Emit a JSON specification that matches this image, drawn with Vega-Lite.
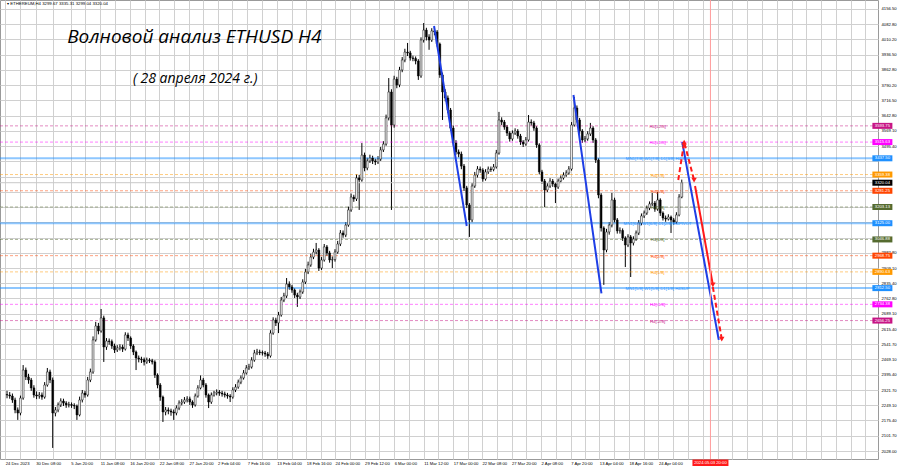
{
"$schema":"https://vega.github.io/schema/vega-lite/v6.json",
"width":878,"height":459,
"autosize":{"type":"none"},
"padding":{"left":0,"top":0,"right":22,"bottom":9},
"background":"white",
"resolve":{"axis":{"x":"independent","y":"independent"}},
"config":{"view":{"stroke":"#9a9a9a","strokeWidth":1},"text":{"font":"Liberation Sans"},
"axis":{"grid":true,"gridColor":"#d0d0d0","gridWidth":1,"gridOpacity":1,"domain":false,"ticks":false,"labelFontSize":4.2,"labelFont":"Liberation Sans","labelColor":"#000000","labelOverlap":false,"labelFlush":false}},
"datasets":{
"candles":[
{"t":"2023-12-25T00:00","o":2300,"h":2318,"l":2282,"c":2298},
{"t":"2023-12-25T12:00","o":2298,"h":2312,"l":2280,"c":2293},
{"t":"2023-12-26T00:00","o":2293,"h":2305,"l":2260,"c":2274},
{"t":"2023-12-26T12:00","o":2274,"h":2285,"l":2210,"c":2226},
{"t":"2023-12-27T00:00","o":2226,"h":2238,"l":2178,"c":2211},
{"t":"2023-12-27T12:00","o":2211,"h":2295,"l":2200,"c":2283},
{"t":"2023-12-28T00:00","o":2283,"h":2442,"l":2275,"c":2418},
{"t":"2023-12-28T12:00","o":2418,"h":2430,"l":2370,"c":2385},
{"t":"2023-12-29T00:00","o":2385,"h":2400,"l":2352,"c":2370},
{"t":"2023-12-29T12:00","o":2370,"h":2380,"l":2318,"c":2332},
{"t":"2023-12-30T00:00","o":2332,"h":2345,"l":2285,"c":2298},
{"t":"2023-12-30T12:00","o":2298,"h":2315,"l":2278,"c":2293},
{"t":"2023-12-31T00:00","o":2293,"h":2312,"l":2280,"c":2298},
{"t":"2023-12-31T12:00","o":2298,"h":2310,"l":2275,"c":2288},
{"t":"2024-01-01T00:00","o":2288,"h":2360,"l":2280,"c":2346},
{"t":"2024-01-01T12:00","o":2346,"h":2428,"l":2338,"c":2409},
{"t":"2024-01-02T00:00","o":2409,"h":2420,"l":2355,"c":2370},
{"t":"2024-01-02T12:00","o":2370,"h":2382,"l":2043,"c":2211},
{"t":"2024-01-03T00:00","o":2211,"h":2240,"l":2195,"c":2226},
{"t":"2024-01-03T12:00","o":2226,"h":2262,"l":2215,"c":2250},
{"t":"2024-01-04T00:00","o":2250,"h":2282,"l":2240,"c":2269},
{"t":"2024-01-04T12:00","o":2269,"h":2280,"l":2245,"c":2259},
{"t":"2024-01-05T00:00","o":2259,"h":2268,"l":2236,"c":2250},
{"t":"2024-01-05T12:00","o":2250,"h":2265,"l":2238,"c":2252},
{"t":"2024-01-06T00:00","o":2252,"h":2262,"l":2236,"c":2248},
{"t":"2024-01-06T12:00","o":2248,"h":2258,"l":2230,"c":2245},
{"t":"2024-01-07T00:00","o":2245,"h":2252,"l":2178,"c":2202},
{"t":"2024-01-07T12:00","o":2202,"h":2290,"l":2195,"c":2274},
{"t":"2024-01-08T00:00","o":2274,"h":2322,"l":2262,"c":2307},
{"t":"2024-01-08T12:00","o":2307,"h":2318,"l":2285,"c":2298},
{"t":"2024-01-09T00:00","o":2298,"h":2385,"l":2290,"c":2370},
{"t":"2024-01-09T12:00","o":2370,"h":2425,"l":2360,"c":2409},
{"t":"2024-01-10T00:00","o":2409,"h":2580,"l":2400,"c":2563},
{"t":"2024-01-10T12:00","o":2563,"h":2650,"l":2555,"c":2630},
{"t":"2024-01-11T00:00","o":2630,"h":2645,"l":2590,"c":2606},
{"t":"2024-01-11T12:00","o":2606,"h":2712,"l":2598,"c":2669},
{"t":"2024-01-12T00:00","o":2669,"h":2680,"l":2457,"c":2529},
{"t":"2024-01-12T12:00","o":2529,"h":2572,"l":2515,"c":2558},
{"t":"2024-01-13T00:00","o":2558,"h":2570,"l":2540,"c":2555},
{"t":"2024-01-13T12:00","o":2555,"h":2565,"l":2520,"c":2534},
{"t":"2024-01-14T00:00","o":2534,"h":2545,"l":2500,"c":2515},
{"t":"2024-01-14T12:00","o":2515,"h":2538,"l":2505,"c":2524},
{"t":"2024-01-15T00:00","o":2524,"h":2542,"l":2512,"c":2529},
{"t":"2024-01-15T12:00","o":2529,"h":2540,"l":2505,"c":2519},
{"t":"2024-01-16T00:00","o":2519,"h":2600,"l":2512,"c":2587},
{"t":"2024-01-16T12:00","o":2587,"h":2598,"l":2558,"c":2572},
{"t":"2024-01-17T00:00","o":2572,"h":2580,"l":2520,"c":2534},
{"t":"2024-01-17T12:00","o":2534,"h":2542,"l":2490,"c":2505},
{"t":"2024-01-18T00:00","o":2505,"h":2512,"l":2418,"c":2476},
{"t":"2024-01-18T12:00","o":2476,"h":2488,"l":2455,"c":2471},
{"t":"2024-01-19T00:00","o":2471,"h":2482,"l":2452,"c":2468},
{"t":"2024-01-19T12:00","o":2468,"h":2478,"l":2440,"c":2457},
{"t":"2024-01-20T00:00","o":2457,"h":2478,"l":2448,"c":2466},
{"t":"2024-01-20T12:00","o":2466,"h":2475,"l":2452,"c":2463},
{"t":"2024-01-21T00:00","o":2463,"h":2472,"l":2445,"c":2457},
{"t":"2024-01-21T12:00","o":2457,"h":2465,"l":2380,"c":2394},
{"t":"2024-01-22T00:00","o":2394,"h":2402,"l":2330,"c":2346},
{"t":"2024-01-22T12:00","o":2346,"h":2355,"l":2270,"c":2288},
{"t":"2024-01-23T00:00","o":2288,"h":2295,"l":2168,"c":2216},
{"t":"2024-01-23T12:00","o":2216,"h":2240,"l":2200,"c":2226},
{"t":"2024-01-24T00:00","o":2226,"h":2238,"l":2205,"c":2221},
{"t":"2024-01-24T12:00","o":2221,"h":2232,"l":2198,"c":2216},
{"t":"2024-01-25T00:00","o":2216,"h":2228,"l":2178,"c":2211},
{"t":"2024-01-25T12:00","o":2211,"h":2248,"l":2200,"c":2235},
{"t":"2024-01-26T00:00","o":2235,"h":2272,"l":2225,"c":2259},
{"t":"2024-01-26T12:00","o":2259,"h":2278,"l":2248,"c":2264},
{"t":"2024-01-27T00:00","o":2264,"h":2288,"l":2255,"c":2274},
{"t":"2024-01-27T12:00","o":2274,"h":2292,"l":2262,"c":2279},
{"t":"2024-01-28T00:00","o":2279,"h":2290,"l":2250,"c":2264},
{"t":"2024-01-28T12:00","o":2264,"h":2272,"l":2236,"c":2250},
{"t":"2024-01-29T00:00","o":2250,"h":2305,"l":2242,"c":2293},
{"t":"2024-01-29T12:00","o":2293,"h":2345,"l":2285,"c":2332},
{"t":"2024-01-30T00:00","o":2332,"h":2392,"l":2325,"c":2370},
{"t":"2024-01-30T12:00","o":2370,"h":2380,"l":2335,"c":2346},
{"t":"2024-01-31T00:00","o":2346,"h":2355,"l":2285,"c":2298},
{"t":"2024-01-31T12:00","o":2298,"h":2305,"l":2235,"c":2264},
{"t":"2024-02-01T00:00","o":2264,"h":2310,"l":2255,"c":2298},
{"t":"2024-02-01T12:00","o":2298,"h":2318,"l":2290,"c":2307},
{"t":"2024-02-02T00:00","o":2307,"h":2325,"l":2296,"c":2312},
{"t":"2024-02-02T12:00","o":2312,"h":2322,"l":2294,"c":2307},
{"t":"2024-02-03T00:00","o":2307,"h":2318,"l":2290,"c":2303},
{"t":"2024-02-03T12:00","o":2303,"h":2314,"l":2286,"c":2298},
{"t":"2024-02-04T00:00","o":2298,"h":2308,"l":2280,"c":2293},
{"t":"2024-02-04T12:00","o":2293,"h":2302,"l":2264,"c":2288},
{"t":"2024-02-05T00:00","o":2288,"h":2335,"l":2280,"c":2322},
{"t":"2024-02-05T12:00","o":2322,"h":2350,"l":2312,"c":2336},
{"t":"2024-02-06T00:00","o":2336,"h":2372,"l":2328,"c":2360},
{"t":"2024-02-06T12:00","o":2360,"h":2392,"l":2350,"c":2380},
{"t":"2024-02-07T00:00","o":2380,"h":2418,"l":2372,"c":2404},
{"t":"2024-02-07T12:00","o":2404,"h":2442,"l":2396,"c":2428},
{"t":"2024-02-08T00:00","o":2428,"h":2448,"l":2418,"c":2433},
{"t":"2024-02-08T12:00","o":2433,"h":2480,"l":2425,"c":2466},
{"t":"2024-02-09T00:00","o":2466,"h":2515,"l":2458,"c":2500},
{"t":"2024-02-09T12:00","o":2500,"h":2520,"l":2490,"c":2505},
{"t":"2024-02-10T00:00","o":2505,"h":2516,"l":2490,"c":2502},
{"t":"2024-02-10T12:00","o":2502,"h":2512,"l":2488,"c":2500},
{"t":"2024-02-11T00:00","o":2500,"h":2510,"l":2482,"c":2495},
{"t":"2024-02-11T12:00","o":2495,"h":2505,"l":2472,"c":2486},
{"t":"2024-02-12T00:00","o":2486,"h":2610,"l":2478,"c":2596},
{"t":"2024-02-12T12:00","o":2596,"h":2672,"l":2588,"c":2659},
{"t":"2024-02-13T00:00","o":2659,"h":2670,"l":2630,"c":2645},
{"t":"2024-02-13T12:00","o":2645,"h":2698,"l":2596,"c":2683},
{"t":"2024-02-14T00:00","o":2683,"h":2770,"l":2675,"c":2755},
{"t":"2024-02-14T12:00","o":2755,"h":2790,"l":2745,"c":2775},
{"t":"2024-02-15T00:00","o":2775,"h":2861,"l":2765,"c":2832},
{"t":"2024-02-15T12:00","o":2832,"h":2845,"l":2805,"c":2818},
{"t":"2024-02-16T00:00","o":2818,"h":2828,"l":2790,"c":2803},
{"t":"2024-02-16T12:00","o":2803,"h":2812,"l":2765,"c":2779},
{"t":"2024-02-17T00:00","o":2779,"h":2790,"l":2722,"c":2770},
{"t":"2024-02-17T12:00","o":2770,"h":2806,"l":2760,"c":2794},
{"t":"2024-02-18T00:00","o":2794,"h":2855,"l":2785,"c":2842},
{"t":"2024-02-18T12:00","o":2842,"h":2905,"l":2832,"c":2890},
{"t":"2024-02-19T00:00","o":2890,"h":2940,"l":2880,"c":2924},
{"t":"2024-02-19T12:00","o":2924,"h":2978,"l":2915,"c":2962},
{"t":"2024-02-20T00:00","o":2962,"h":3002,"l":2952,"c":2986},
{"t":"2024-02-20T12:00","o":2986,"h":3030,"l":2975,"c":2996},
{"t":"2024-02-21T00:00","o":2996,"h":3005,"l":2895,"c":2909},
{"t":"2024-02-21T12:00","o":2909,"h":2962,"l":2900,"c":2948},
{"t":"2024-02-22T00:00","o":2948,"h":3025,"l":2940,"c":3011},
{"t":"2024-02-22T12:00","o":3011,"h":3020,"l":2968,"c":2982},
{"t":"2024-02-23T00:00","o":2982,"h":2992,"l":2935,"c":2948},
{"t":"2024-02-23T12:00","o":2948,"h":2965,"l":2909,"c":2950},
{"t":"2024-02-24T00:00","o":2950,"h":3000,"l":2940,"c":2986},
{"t":"2024-02-24T12:00","o":2986,"h":3040,"l":2978,"c":3025},
{"t":"2024-02-25T00:00","o":3025,"h":3092,"l":3015,"c":3078},
{"t":"2024-02-25T12:00","o":3078,"h":3090,"l":3055,"c":3068},
{"t":"2024-02-26T00:00","o":3068,"h":3130,"l":3058,"c":3116},
{"t":"2024-02-26T12:00","o":3116,"h":3205,"l":3108,"c":3189},
{"t":"2024-02-27T00:00","o":3189,"h":3268,"l":3180,"c":3251},
{"t":"2024-02-27T12:00","o":3251,"h":3262,"l":3228,"c":3242},
{"t":"2024-02-28T00:00","o":3242,"h":3360,"l":3232,"c":3343},
{"t":"2024-02-28T12:00","o":3343,"h":3358,"l":3189,"c":3333},
{"t":"2024-02-29T00:00","o":3333,"h":3511,"l":3325,"c":3453},
{"t":"2024-02-29T12:00","o":3453,"h":3465,"l":3375,"c":3391},
{"t":"2024-03-01T00:00","o":3391,"h":3440,"l":3380,"c":3425},
{"t":"2024-03-01T12:00","o":3425,"h":3455,"l":3415,"c":3439},
{"t":"2024-03-02T00:00","o":3439,"h":3450,"l":3410,"c":3425},
{"t":"2024-03-02T12:00","o":3425,"h":3436,"l":3405,"c":3420},
{"t":"2024-03-03T00:00","o":3420,"h":3448,"l":3410,"c":3434},
{"t":"2024-03-03T12:00","o":3434,"h":3492,"l":3425,"c":3478},
{"t":"2024-03-04T00:00","o":3478,"h":3520,"l":3468,"c":3506},
{"t":"2024-03-04T12:00","o":3506,"h":3648,"l":3498,"c":3632},
{"t":"2024-03-05T00:00","o":3632,"h":3824,"l":3620,"c":3757},
{"t":"2024-03-05T12:00","o":3757,"h":3770,"l":3189,"c":3598},
{"t":"2024-03-06T00:00","o":3598,"h":3835,"l":3585,"c":3819},
{"t":"2024-03-06T12:00","o":3819,"h":3830,"l":3775,"c":3791},
{"t":"2024-03-07T00:00","o":3791,"h":3878,"l":3780,"c":3863},
{"t":"2024-03-07T12:00","o":3863,"h":3925,"l":3852,"c":3911},
{"t":"2024-03-08T00:00","o":3911,"h":3965,"l":3900,"c":3949},
{"t":"2024-03-08T12:00","o":3949,"h":3993,"l":3930,"c":3945},
{"t":"2024-03-09T00:00","o":3945,"h":3955,"l":3908,"c":3921},
{"t":"2024-03-09T12:00","o":3921,"h":3932,"l":3905,"c":3918},
{"t":"2024-03-10T00:00","o":3918,"h":3928,"l":3890,"c":3906},
{"t":"2024-03-10T12:00","o":3906,"h":3915,"l":3815,"c":3834},
{"t":"2024-03-11T00:00","o":3834,"h":4020,"l":3825,"c":4007},
{"t":"2024-03-11T12:00","o":4007,"h":4089,"l":3995,"c":4055},
{"t":"2024-03-12T00:00","o":4055,"h":4066,"l":4005,"c":4022},
{"t":"2024-03-12T12:00","o":4022,"h":4035,"l":3960,"c":4007},
{"t":"2024-03-13T00:00","o":4007,"h":4064,"l":3998,"c":4051},
{"t":"2024-03-13T12:00","o":4051,"h":4070,"l":4030,"c":4046},
{"t":"2024-03-14T00:00","o":4046,"h":4055,"l":3975,"c":3988},
{"t":"2024-03-14T12:00","o":3988,"h":3995,"l":3825,"c":3839},
{"t":"2024-03-15T00:00","o":3839,"h":3850,"l":3622,"c":3757},
{"t":"2024-03-15T12:00","o":3757,"h":3770,"l":3712,"c":3728},
{"t":"2024-03-16T00:00","o":3728,"h":3740,"l":3655,"c":3670},
{"t":"2024-03-16T12:00","o":3670,"h":3680,"l":3570,"c":3583},
{"t":"2024-03-17T00:00","o":3583,"h":3595,"l":3498,"c":3511},
{"t":"2024-03-17T12:00","o":3511,"h":3525,"l":3455,"c":3468},
{"t":"2024-03-18T00:00","o":3468,"h":3480,"l":3442,"c":3458},
{"t":"2024-03-18T12:00","o":3458,"h":3470,"l":3385,"c":3400},
{"t":"2024-03-19T00:00","o":3400,"h":3410,"l":3280,"c":3295},
{"t":"2024-03-19T12:00","o":3295,"h":3305,"l":3198,"c":3213},
{"t":"2024-03-20T00:00","o":3213,"h":3222,"l":3059,"c":3141},
{"t":"2024-03-20T12:00","o":3141,"h":3318,"l":3130,"c":3304},
{"t":"2024-03-21T00:00","o":3304,"h":3372,"l":3295,"c":3357},
{"t":"2024-03-21T12:00","o":3357,"h":3400,"l":3345,"c":3386},
{"t":"2024-03-22T00:00","o":3386,"h":3398,"l":3368,"c":3381},
{"t":"2024-03-22T12:00","o":3381,"h":3390,"l":3325,"c":3338},
{"t":"2024-03-23T00:00","o":3338,"h":3385,"l":3330,"c":3372},
{"t":"2024-03-23T12:00","o":3372,"h":3398,"l":3362,"c":3386},
{"t":"2024-03-24T00:00","o":3386,"h":3398,"l":3372,"c":3384},
{"t":"2024-03-24T12:00","o":3384,"h":3410,"l":3375,"c":3396},
{"t":"2024-03-25T00:00","o":3396,"h":3478,"l":3388,"c":3463},
{"t":"2024-03-25T12:00","o":3463,"h":3661,"l":3455,"c":3622},
{"t":"2024-03-26T00:00","o":3622,"h":3635,"l":3598,"c":3612},
{"t":"2024-03-26T12:00","o":3612,"h":3622,"l":3575,"c":3588},
{"t":"2024-03-27T00:00","o":3588,"h":3598,"l":3545,"c":3559},
{"t":"2024-03-27T12:00","o":3559,"h":3568,"l":3518,"c":3531},
{"t":"2024-03-28T00:00","o":3531,"h":3572,"l":3522,"c":3559},
{"t":"2024-03-28T12:00","o":3559,"h":3582,"l":3550,"c":3569},
{"t":"2024-03-29T00:00","o":3569,"h":3578,"l":3532,"c":3545},
{"t":"2024-03-29T12:00","o":3545,"h":3555,"l":3502,"c":3516},
{"t":"2024-03-30T00:00","o":3516,"h":3525,"l":3492,"c":3506},
{"t":"2024-03-30T12:00","o":3506,"h":3540,"l":3498,"c":3526},
{"t":"2024-03-31T00:00","o":3526,"h":3646,"l":3518,"c":3612},
{"t":"2024-03-31T12:00","o":3612,"h":3625,"l":3595,"c":3608},
{"t":"2024-04-01T00:00","o":3608,"h":3618,"l":3570,"c":3583},
{"t":"2024-04-01T12:00","o":3583,"h":3592,"l":3488,"c":3502},
{"t":"2024-04-02T00:00","o":3502,"h":3510,"l":3360,"c":3372},
{"t":"2024-04-02T12:00","o":3372,"h":3382,"l":3315,"c":3328},
{"t":"2024-04-03T00:00","o":3328,"h":3338,"l":3203,"c":3285},
{"t":"2024-04-03T12:00","o":3285,"h":3318,"l":3275,"c":3304},
{"t":"2024-04-04T00:00","o":3304,"h":3342,"l":3295,"c":3328},
{"t":"2024-04-04T12:00","o":3328,"h":3338,"l":3300,"c":3314},
{"t":"2024-04-05T00:00","o":3314,"h":3322,"l":3222,"c":3299},
{"t":"2024-04-05T12:00","o":3299,"h":3340,"l":3290,"c":3328},
{"t":"2024-04-06T00:00","o":3328,"h":3355,"l":3318,"c":3343},
{"t":"2024-04-06T12:00","o":3343,"h":3370,"l":3335,"c":3357},
{"t":"2024-04-07T00:00","o":3357,"h":3380,"l":3348,"c":3367},
{"t":"2024-04-07T12:00","o":3367,"h":3400,"l":3358,"c":3386},
{"t":"2024-04-08T00:00","o":3386,"h":3612,"l":3378,"c":3598},
{"t":"2024-04-08T12:00","o":3598,"h":3733,"l":3590,"c":3680},
{"t":"2024-04-09T00:00","o":3680,"h":3692,"l":3610,"c":3622},
{"t":"2024-04-09T12:00","o":3622,"h":3632,"l":3555,"c":3569},
{"t":"2024-04-10T00:00","o":3569,"h":3578,"l":3512,"c":3526},
{"t":"2024-04-10T12:00","o":3526,"h":3545,"l":3515,"c":3531},
{"t":"2024-04-11T00:00","o":3531,"h":3568,"l":3522,"c":3555},
{"t":"2024-04-11T12:00","o":3555,"h":3608,"l":3545,"c":3583},
{"t":"2024-04-12T00:00","o":3583,"h":3592,"l":3512,"c":3526},
{"t":"2024-04-12T12:00","o":3526,"h":3535,"l":3415,"c":3429},
{"t":"2024-04-13T00:00","o":3429,"h":3438,"l":3245,"c":3261},
{"t":"2024-04-13T12:00","o":3261,"h":3270,"l":3085,"c":3102},
{"t":"2024-04-14T00:00","o":3102,"h":3110,"l":2828,"c":2996},
{"t":"2024-04-14T12:00","o":2996,"h":3098,"l":2985,"c":3083},
{"t":"2024-04-15T00:00","o":3083,"h":3130,"l":3070,"c":3116},
{"t":"2024-04-15T12:00","o":3116,"h":3271,"l":3105,"c":3237},
{"t":"2024-04-16T00:00","o":3237,"h":3248,"l":3128,"c":3141},
{"t":"2024-04-16T12:00","o":3141,"h":3150,"l":3075,"c":3088},
{"t":"2024-04-17T00:00","o":3088,"h":3105,"l":3075,"c":3090},
{"t":"2024-04-17T12:00","o":3090,"h":3100,"l":3040,"c":3054},
{"t":"2024-04-18T00:00","o":3054,"h":3062,"l":2914,"c":3020},
{"t":"2024-04-18T12:00","o":3020,"h":3072,"l":3010,"c":3059},
{"t":"2024-04-19T00:00","o":3059,"h":3068,"l":2866,"c":3030},
{"t":"2024-04-19T12:00","o":3030,"h":3062,"l":3018,"c":3049},
{"t":"2024-04-20T00:00","o":3049,"h":3090,"l":3040,"c":3078},
{"t":"2024-04-20T12:00","o":3078,"h":3140,"l":3068,"c":3126},
{"t":"2024-04-21T00:00","o":3126,"h":3172,"l":3115,"c":3160},
{"t":"2024-04-21T12:00","o":3160,"h":3186,"l":3150,"c":3174},
{"t":"2024-04-22T00:00","o":3174,"h":3210,"l":3165,"c":3198},
{"t":"2024-04-22T12:00","o":3198,"h":3230,"l":3188,"c":3218},
{"t":"2024-04-23T00:00","o":3218,"h":3271,"l":3208,"c":3222},
{"t":"2024-04-23T12:00","o":3222,"h":3232,"l":3180,"c":3193},
{"t":"2024-04-24T00:00","o":3193,"h":3275,"l":3185,"c":3237},
{"t":"2024-04-24T12:00","o":3237,"h":3245,"l":3160,"c":3174},
{"t":"2024-04-25T00:00","o":3174,"h":3182,"l":3138,"c":3150},
{"t":"2024-04-25T12:00","o":3150,"h":3162,"l":3132,"c":3145},
{"t":"2024-04-26T00:00","o":3145,"h":3168,"l":3138,"c":3155},
{"t":"2024-04-26T12:00","o":3155,"h":3162,"l":3078,"c":3141},
{"t":"2024-04-27T00:00","o":3141,"h":3150,"l":3118,"c":3131},
{"t":"2024-04-27T12:00","o":3131,"h":3178,"l":3122,"c":3165},
{"t":"2024-04-28T00:00","o":3165,"h":3265,"l":3158,"c":3251},
{"t":"2024-04-28T12:00","o":3251,"h":3335,"l":3245,"c":3320.04}
],
"levels":[
{"lvl":3593.75,"name":"H4[+2/8]","grp":"pm2"},
{"lvl":3515.63,"name":"H4[+1/8]","grp":"pm1"},
{"lvl":3437.5,"name":"MN1[7/8] W1[7/8] D1[3/8] H4[8/8]","grp":"mn"},
{"lvl":3359.38,"name":"H4[7/8]","grp":"g78"},
{"lvl":3281.25,"name":"H4[6/8]","grp":"g68"},
{"lvl":3203.13,"name":"H4[5/8]","grp":"g58"},
{"lvl":3125.0,"name":"MN1[6/8] W1[6/8] D1[2/8] H4PIVOT","grp":"mn"},
{"lvl":3046.88,"name":"H4[3/8]","grp":"g58"},
{"lvl":2968.75,"name":"H4[2/8]","grp":"g68"},
{"lvl":2890.63,"name":"H4[1/8]","grp":"g78"},
{"lvl":2812.5,"name":"MN1[5/8] W1[5/8] D1[1/8] H4SUP","grp":"mn"},
{"lvl":2734.38,"name":"H4[-1/8]","grp":"pm1"},
{"lvl":2656.25,"name":"H4[-2/8]","grp":"pm2"}
],
"current":[{"lvl":3320.04}],
"waves":[
{"seg":"b1","kind":"b","t":"2024-03-13T10:12","p":4074.6},
{"seg":"b1","kind":"b","t":"2024-03-19T12:00","p":3111.6},
{"seg":"b2","kind":"b","t":"2024-04-08T08:30","p":3742.4},
{"seg":"b2","kind":"b","t":"2024-04-13T13:24","p":2787.5},
{"seg":"b3","kind":"b","t":"2024-04-28T13:54","p":3516},
{"seg":"b3","kind":"b","t":"2024-05-05T09:12","p":2563},
{"seg":"r1","kind":"rd","t":"2024-04-27T20:18","p":3333},
{"seg":"r1","kind":"rd","t":"2024-04-28T22:42","p":3516},
{"seg":"r1","kind":"rd","t":"2024-04-30T18:54","p":3333},
{"seg":"r2","kind":"r","t":"2024-04-30T23:18","p":3304},
{"seg":"r2","kind":"r","t":"2024-05-04T06:42","p":2828},
{"seg":"r3","kind":"rd","t":"2024-05-04T06:42","p":2818},
{"seg":"r3","kind":"rd","t":"2024-05-05T22:24","p":2567}
],
"arrows":[
{"t":"2024-04-28T22:42","p":3516,"dir":"up"},
{"t":"2024-04-30T18:54","p":3333,"dir":"down"},
{"t":"2024-05-04T06:42","p":2828,"dir":"down"},
{"t":"2024-05-05T22:24","p":2567,"dir":"down"}
],
"cursor":[{"t":"2024-05-03T20:00","label":"2024.05.03 20:00"}]
},
"layer":[
{"data":{"name":"candles"},"mark":{"type":"rule","color":"#000000","strokeWidth":1},
"encoding":{
"x":{"field":"t","type":"temporal","scale":{"domain":[{"year":2023,"month":12,"date":24,"hours":15},{"year":2024,"month":6,"date":3,"hours":1,"minutes":36}],"nice":false},
"axis":{"title":null,"values":[{"year":2023,"month":12,"date":24,"hours":16},{"year":2023,"month":12,"date":27,"hours":12,"minutes":1},{"year":2023,"month":12,"date":30,"hours":8},{"year":2024,"month":1,"date":2,"hours":14,"minutes":1},{"year":2024,"month":1,"date":5,"hours":20},{"year":2024,"month":1,"date":8,"hours":14,"minutes":1},{"year":2024,"month":1,"date":11,"hours":8},{"year":2024,"month":1,"date":14,"hours":2,"minutes":1},{"year":2024,"month":1,"date":16,"hours":20},{"year":2024,"month":1,"date":19,"hours":14,"minutes":1},{"year":2024,"month":1,"date":22,"hours":8},{"year":2024,"month":1,"date":25,"hours":2,"minutes":1},{"year":2024,"month":1,"date":27,"hours":20},{"year":2024,"month":1,"date":30,"hours":12,"minutes":1},{"year":2024,"month":2,"date":2,"hours":4},{"year":2024,"month":2,"date":4,"hours":22,"minutes":1},{"year":2024,"month":2,"date":7,"hours":16},{"year":2024,"month":2,"date":10,"hours":10,"minutes":1},{"year":2024,"month":2,"date":13,"hours":4},{"year":2024,"month":2,"date":15,"hours":22,"minutes":1},{"year":2024,"month":2,"date":18,"hours":16},{"year":2024,"month":2,"date":21,"hours":8,"minutes":1},{"year":2024,"month":2,"date":24,"hours":0},{"year":2024,"month":2,"date":26,"hours":18,"minutes":1},{"year":2024,"month":2,"date":29,"hours":12},{"year":2024,"month":3,"date":3,"hours":6,"minutes":1},{"year":2024,"month":3,"date":6,"hours":0},{"year":2024,"month":3,"date":8,"hours":18,"minutes":1},{"year":2024,"month":3,"date":11,"hours":12},{"year":2024,"month":3,"date":14,"hours":6,"minutes":1},{"year":2024,"month":3,"date":17,"hours":0},{"year":2024,"month":3,"date":19,"hours":16,"minutes":1},{"year":2024,"month":3,"date":22,"hours":8},{"year":2024,"month":3,"date":25,"hours":2,"minutes":1},{"year":2024,"month":3,"date":27,"hours":20},{"year":2024,"month":3,"date":30,"hours":14,"minutes":1},{"year":2024,"month":4,"date":2,"hours":8},{"year":2024,"month":4,"date":5,"hours":2,"minutes":1},{"year":2024,"month":4,"date":7,"hours":20},{"year":2024,"month":4,"date":10,"hours":12,"minutes":1},{"year":2024,"month":4,"date":13,"hours":4},{"year":2024,"month":4,"date":15,"hours":22,"minutes":1},{"year":2024,"month":4,"date":18,"hours":16},{"year":2024,"month":4,"date":21,"hours":10,"minutes":1},{"year":2024,"month":4,"date":24,"hours":4},{"year":2024,"month":4,"date":26,"hours":22,"minutes":1},{"year":2024,"month":4,"date":29,"hours":16},{"year":2024,"month":5,"date":2,"hours":10,"minutes":1},{"year":2024,"month":5,"date":5,"hours":4},{"year":2024,"month":5,"date":7,"hours":22,"minutes":1},{"year":2024,"month":5,"date":10,"hours":16},{"year":2024,"month":5,"date":13,"hours":10,"minutes":1},{"year":2024,"month":5,"date":16,"hours":4},{"year":2024,"month":5,"date":18,"hours":22,"minutes":1},{"year":2024,"month":5,"date":21,"hours":16},{"year":2024,"month":5,"date":24,"hours":10,"minutes":1},{"year":2024,"month":5,"date":27,"hours":4},{"year":2024,"month":5,"date":29,"hours":22,"minutes":1},{"year":2024,"month":6,"date":1,"hours":16}],
"labelExpr":"minutes(datum.value) == 1 ? '' : (datum.value < time(datetime(2023,11,25)) ? timeFormat(datum.value, '%-d %b %Y') : (datum.value > time(datetime(2024,3,28)) ? '' : timeFormat(datum.value, '%-d %b %H:%M')))",
"labelAlign":"left","labelPadding":2,"labelOverlap":false,"ticks":false,"grid":true,"gridColor":"#d0d0d0","gridOpacity":1,"gridWidth":1}},
"y":{"field":"l","type":"quantitative","scale":{"domain":[1989.7,4199.8],"nice":false,"zero":false},
"axis":{"title":null,"orient":"right","values":[2028.0,2101.7,2175.4,2249.1,2321.7,2395.4,2469.1,2541.7,2615.4,2689.1,2762.8,2835.4,2909.1,2982.8,3055.4,3129.1,3202.8,3275.4,3349.1,3422.8,3495.4,3569.1,3642.8,3716.5,3790.2,3862.8,3936.5,4010.2,4082.8,4156.5],
"labelExpr":"indexof([3202.8,3129.1,3275.4,3349.1,3422.8,3055.4], datum.value) >= 0 ? '' : format(datum.value, '.2f')",
"labelAlign":"left","labelBaseline":"middle","labelPadding":3,"labelOverlap":false,"ticks":false,"grid":true,"gridColor":"#d0d0d0","gridOpacity":1,"gridWidth":1}},
"y2":{"field":"h"}}},
{"data":{"name":"levels"},"mark":{"type":"rule","opacity":0.5},
"encoding":{
"y":{"field":"lvl","type":"quantitative","scale":{"domain":[1989.7,4199.8],"nice":false,"zero":false},"axis":null},
"color":{"field":"grp","type":"nominal","scale":{"domain":["pm2","pm1","mn","g78","g68","g58"],"range":["#c71585","#ff00ff","#1e90ff","#ff9900","#ff4500","#556b2f"]},"legend":null},
"strokeDash":{"condition":{"test":"datum.grp === 'mn'","value":[1,0]},"value":[3,2]},
"strokeWidth":{"condition":{"test":"datum.grp === 'mn'","value":2},"value":1}}},
{"data":{"name":"current"},"mark":{"type":"rule","color":"#c8c8c8","strokeWidth":1},
"encoding":{"y":{"field":"lvl","type":"quantitative","scale":{"domain":[1989.7,4199.8],"nice":false,"zero":false},"axis":null}}},
{"data":{"name":"candles"},"mark":{"type":"bar","size":1.8,"stroke":"#000000","strokeWidth":0.5},
"encoding":{
"x":{"field":"t","type":"temporal","scale":{"domain":[{"year":2023,"month":12,"date":24,"hours":15},{"year":2024,"month":6,"date":3,"hours":1,"minutes":36}],"nice":false},"axis":null},
"y":{"field":"o","type":"quantitative","scale":{"domain":[1989.7,4199.8],"nice":false,"zero":false},"axis":null},
"y2":{"field":"c"},
"fill":{"condition":{"test":"datum.c >= datum.o","value":"#ffffff"},"value":"#000000"}}},
{"data":{"name":"levels"},"mark":{"type":"text","fontSize":4.3,"align":"center","baseline":"middle","dy":1,"font":"Liberation Sans"},
"encoding":{
"x":{"datum":{"year":2024,"month":4,"date":24,"hours":0},"type":"temporal","scale":{"domain":[{"year":2023,"month":12,"date":24,"hours":15},{"year":2024,"month":6,"date":3,"hours":1,"minutes":36}],"nice":false},"axis":null},
"y":{"field":"lvl","type":"quantitative","scale":{"domain":[1989.7,4199.8],"nice":false,"zero":false},"axis":null},
"text":{"field":"name"},
"color":{"field":"grp","type":"nominal","scale":{"domain":["pm2","pm1","mn","g78","g68","g58"],"range":["#c71585","#ff00ff","#1e90ff","#ff9900","#ff4500","#556b2f"]},"legend":null}}},
{"data":{"name":"waves"},"mark":{"type":"line","strokeWidth":2},
"encoding":{
"x":{"field":"t","type":"temporal","scale":{"domain":[{"year":2023,"month":12,"date":24,"hours":15},{"year":2024,"month":6,"date":3,"hours":1,"minutes":36}],"nice":false},"axis":null},
"y":{"field":"p","type":"quantitative","scale":{"domain":[1989.7,4199.8],"nice":false,"zero":false},"axis":null},
"detail":{"field":"seg"},
"stroke":{"field":"kind","type":"nominal","scale":{"domain":["b","r","rd"],"range":["#1f3fe6","#ff1a1a","#ff1a1a"]},"legend":null},
"strokeDash":{"field":"kind","type":"nominal","scale":{"domain":["b","r","rd"],"range":[[1,0],[1,0],[5,3]]},"legend":null}}},
{"data":{"name":"arrows"},"mark":{"type":"point","filled":true,"color":"#ff1a1a","size":30,"opacity":1},
"encoding":{
"x":{"field":"t","type":"temporal","scale":{"domain":[{"year":2023,"month":12,"date":24,"hours":15},{"year":2024,"month":6,"date":3,"hours":1,"minutes":36}],"nice":false},"axis":null},
"y":{"field":"p","type":"quantitative","scale":{"domain":[1989.7,4199.8],"nice":false,"zero":false},"axis":null},
"shape":{"field":"dir","type":"nominal","scale":{"domain":["down","up"],"range":["triangle-down","triangle-up"]},"legend":null}}},
{"data":{"name":"cursor"},"mark":{"type":"rule","color":"#ff9c9c","strokeWidth":1},
"encoding":{"x":{"field":"t","type":"temporal","scale":{"domain":[{"year":2023,"month":12,"date":24,"hours":15},{"year":2024,"month":6,"date":3,"hours":1,"minutes":36}],"nice":false},"axis":null}}},
{"data":{"name":"levels"},"mark":{"type":"point","shape":"M-1,-0.3H1V0.3H-1Z","size":400,"filled":true,"opacity":1,"strokeWidth":0},
"encoding":{
"x":{"datum":{"year":2024,"month":6,"date":4,"hours":19,"minutes":30},"type":"temporal","scale":{"domain":[{"year":2023,"month":12,"date":24,"hours":15},{"year":2024,"month":6,"date":3,"hours":1,"minutes":36}],"nice":false},"axis":null},
"y":{"field":"lvl","type":"quantitative","scale":{"domain":[1989.7,4199.8],"nice":false,"zero":false},"axis":null},
"color":{"field":"grp","type":"nominal","scale":{"domain":["pm2","pm1","mn","g78","g68","g58"],"range":["#c71585","#ff00ff","#1e90ff","#ff9900","#ff4500","#556b2f"]},"legend":null}}},
{"data":{"name":"current"},"mark":{"type":"point","shape":"M-1,-0.3H1V0.3H-1Z","size":400,"filled":true,"opacity":1,"strokeWidth":0,"color":"#000000"},
"encoding":{
"x":{"datum":{"year":2024,"month":6,"date":4,"hours":19,"minutes":30},"type":"temporal","scale":{"domain":[{"year":2023,"month":12,"date":24,"hours":15},{"year":2024,"month":6,"date":3,"hours":1,"minutes":36}],"nice":false},"axis":null},
"y":{"field":"lvl","type":"quantitative","scale":{"domain":[1989.7,4199.8],"nice":false,"zero":false},"axis":null}}},
{"data":{"name":"levels"},"mark":{"type":"text","fontSize":4.2,"align":"center","baseline":"middle","color":"#ffffff","font":"Liberation Sans"},
"encoding":{
"x":{"datum":{"year":2024,"month":6,"date":4,"hours":19,"minutes":30},"type":"temporal","scale":{"domain":[{"year":2023,"month":12,"date":24,"hours":15},{"year":2024,"month":6,"date":3,"hours":1,"minutes":36}],"nice":false},"axis":null},
"y":{"field":"lvl","type":"quantitative","scale":{"domain":[1989.7,4199.8],"nice":false,"zero":false},"axis":null},
"text":{"field":"lvl","type":"quantitative","format":".2f"}}},
{"data":{"name":"current"},"mark":{"type":"text","fontSize":4.2,"align":"center","baseline":"middle","color":"#ffffff","font":"Liberation Sans"},
"encoding":{
"x":{"datum":{"year":2024,"month":6,"date":4,"hours":19,"minutes":30},"type":"temporal","scale":{"domain":[{"year":2023,"month":12,"date":24,"hours":15},{"year":2024,"month":6,"date":3,"hours":1,"minutes":36}],"nice":false},"axis":null},
"y":{"field":"lvl","type":"quantitative","scale":{"domain":[1989.7,4199.8],"nice":false,"zero":false},"axis":null},
"text":{"field":"lvl","type":"quantitative","format":".2f"}}},
{"data":{"name":"cursor"},"mark":{"type":"point","shape":"M-1,-0.18H1V0.18H-1Z","size":1296,"filled":true,"opacity":1,"strokeWidth":0,"color":"#ff1a1a"},
"encoding":{
"x":{"field":"t","type":"temporal","scale":{"domain":[{"year":2023,"month":12,"date":24,"hours":15},{"year":2024,"month":6,"date":3,"hours":1,"minutes":36}],"nice":false},"axis":null},
"y":{"datum":1971.9,"type":"quantitative","scale":{"domain":[1989.7,4199.8],"nice":false,"zero":false},"axis":null}}},
{"data":{"name":"cursor"},"mark":{"type":"text","fontSize":4.2,"align":"center","baseline":"middle","color":"#ffffff","font":"Liberation Sans"},
"encoding":{
"x":{"field":"t","type":"temporal","scale":{"domain":[{"year":2023,"month":12,"date":24,"hours":15},{"year":2024,"month":6,"date":3,"hours":1,"minutes":36}],"nice":false},"axis":null},
"y":{"datum":1971.9,"type":"quantitative","scale":{"domain":[1989.7,4199.8],"nice":false,"zero":false},"axis":null},
"text":{"field":"label"}}},
{"data":{"values":[{"txt":"Волновой анализ ETHUSD H4"}]},"mark":{"type":"text","fontSize":19,"font":"Open Sans","fontStyle":"italic","align":"center","baseline":"middle","color":"#000000"},
"encoding":{
"x":{"datum":{"year":2024,"month":1,"date":28,"hours":20},"type":"temporal","scale":{"domain":[{"year":2023,"month":12,"date":24,"hours":15},{"year":2024,"month":6,"date":3,"hours":1,"minutes":36}],"nice":false},"axis":null},
"y":{"datum":4021.6,"type":"quantitative","scale":{"domain":[1989.7,4199.8],"nice":false,"zero":false},"axis":null},
"text":{"field":"txt"}}},
{"data":{"values":[{"txt":"( 28 апреля 2024 г.)"}]},"mark":{"type":"text","fontSize":14,"font":"Open Sans","fontStyle":"italic","align":"center","baseline":"middle","color":"#000000"},
"encoding":{
"x":{"datum":{"year":2024,"month":1,"date":29,"hours":0},"type":"temporal","scale":{"domain":[{"year":2023,"month":12,"date":24,"hours":15},{"year":2024,"month":6,"date":3,"hours":1,"minutes":36}],"nice":false},"axis":null},
"y":{"datum":3819.4,"type":"quantitative","scale":{"domain":[1989.7,4199.8],"nice":false,"zero":false},"axis":null},
"text":{"field":"txt"}}},
{"data":{"values":[{"txt":"▾ ETHEREUM,H4  3299.67 3335.31 3299.04 3320.04"}]},"mark":{"type":"text","fontSize":4.3,"font":"Liberation Sans","align":"left","baseline":"middle","color":"#000000"},
"encoding":{
"x":{"datum":{"year":2023,"month":12,"date":25,"hours":0},"type":"temporal","scale":{"domain":[{"year":2023,"month":12,"date":24,"hours":15},{"year":2024,"month":6,"date":3,"hours":1,"minutes":36}],"nice":false},"axis":null},
"y":{"datum":4180.5,"type":"quantitative","scale":{"domain":[1989.7,4199.8],"nice":false,"zero":false},"axis":null},
"text":{"field":"txt"}}}
]
}
